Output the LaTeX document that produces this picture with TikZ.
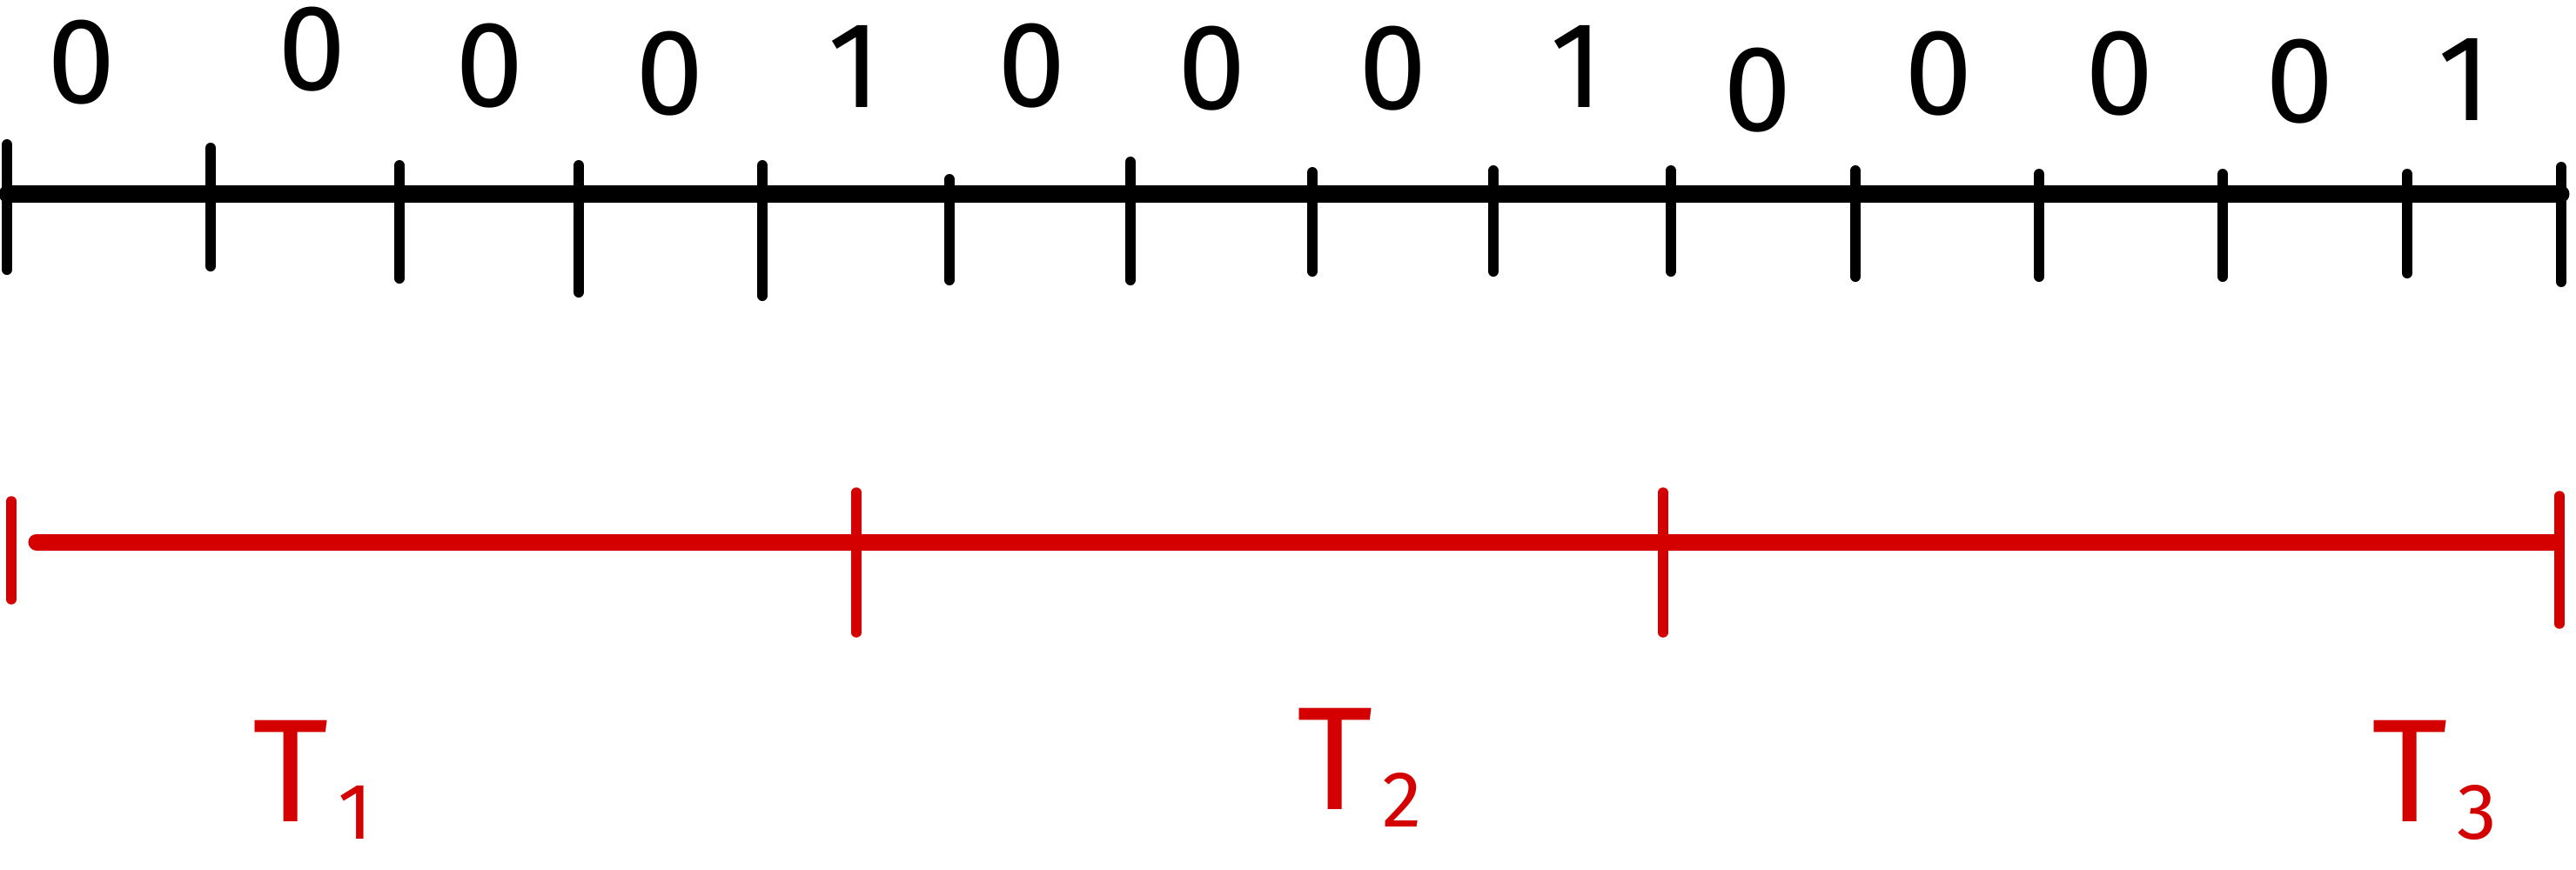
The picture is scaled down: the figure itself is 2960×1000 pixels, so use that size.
\documentclass[tikz,border=0pt]{standalone}
\usepackage{fontspec}
\setmainfont{Fira Sans}
\definecolor{penred}{RGB}{212,0,0}
\newcommand{\tsub}[1]{\kern0.06em\raisebox{-0.12em}{\fontsize{26}{26}\selectfont #1}}
\begin{document}
\begin{tikzpicture}[x=0.01cm,y=-0.01cm,
  axisline/.style={line width=0.19cm,line cap=round},
  tickmark/.style={line width=0.12cm,line cap=round},
  redtick/.style={line width=0.115cm,line cap=round,penred},
  digit/.style={font=\fontsize{40}{40}\selectfont,inner sep=0pt},
  tlabel/.style={font=\fontsize{48}{48}\selectfont,text=penred,inner sep=0pt,anchor=base west}]
\useasboundingbox (0,0) rectangle (2960,1000);
% top axis
\coordinate (a0) at (8,223);
\coordinate (a1) at (2943,223);
\draw[axisline] (a0) -- (a1);
\foreach \x/\t/\b [count=\i] in {8/166/310, 242/170/306, 459/190/320, 665/190/336, 876/190/340, 1091/206/322, 1299/186/322, 1508/198/312, 1716/196/312, 1920/196/312, 2132/196/318, 2343/200/318, 2554/200/318, 2766/200/314, 2943/192/324}{
  \coordinate (tt\i) at (\x,\t);
  \coordinate (tb\i) at (\x,\b);
  \draw[tickmark] (tt\i) -- (tb\i);
}
% digits
\foreach \x/\y/\d [count=\i] in {94/72/0, 359/57/0, 563/76/0, 770/85/0, 982/76/1, 1186/76/0, 1393/79/0, 1601/79/0, 1812/76/1, 2020/104/0, 2228/85/0, 2436/85/0, 2643/94/0, 2832/91/1}{
  \node[digit] (d\i) at (\x,\y) {\d};
}
% red axis
\coordinate (r0) at (42,623);
\coordinate (r1) at (2936,623);
\draw[axisline,penred] (r0) -- (r1);
\foreach \x/\t/\b [count=\i] in {13/576/689, 984/566/727, 1911/566/727, 2941/570/717}{
  \coordinate (rt\i) at (\x,\t);
  \coordinate (rb\i) at (\x,\b);
  \draw[redtick] (rt\i) -- (rb\i);
}
% labels
\node[tlabel] (T1) at (290,944) {T\tsub{1}};
\node[tlabel] (T2) at (1490,930) {T\tsub{2}};
\node[tlabel] (T3) at (2725,944) {T\tsub{3}};
\end{tikzpicture}
\end{document}
